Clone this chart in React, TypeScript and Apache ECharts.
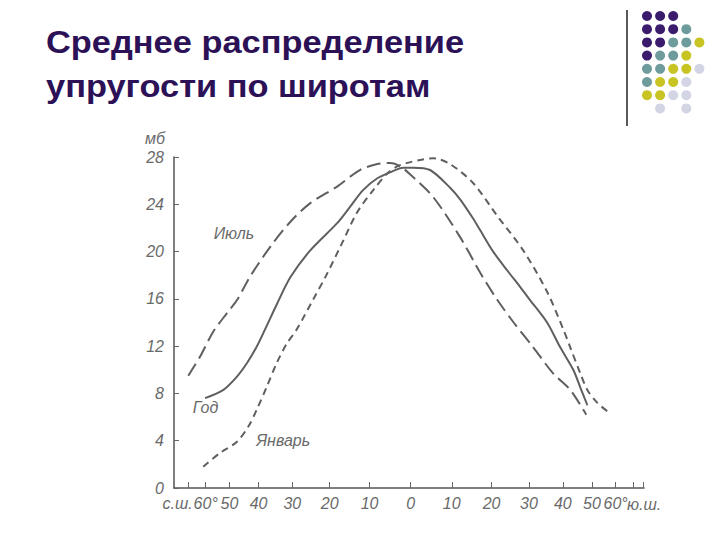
import React, { useEffect, useRef } from "react";
import * as echarts from "echarts";

// ---- data (latitude: north positive, south negative; values in mb) ----
const TITLE_LINES = ["Среднее распределение", "упругости по широтам"];
const Y_UNIT = "мб";
const X_END_NAME = "ю.ш.";
const Y_TICKS = [0, 4, 8, 12, 16, 20, 24, 28];
const X_TICK_LATS = [70, 60, 50, 40, 30, 20, 10, 0, -10, -20, -30, -40, -50, -60, -70, -80];
const X_LABEL_LATS = [80, 60, 50, 40, 30, 20, 10, 0, -10, -20, -30, -40, -50, -60];
const X_LABEL_TEXTS = ["с.ш.", "60°", "50", "40", "30", "20", "10", "0", "10", "20", "30", "40", "50", "60°"];

const SERIES_NAMES = ["Год", "Июль", "Январь"];

const YEAR_LAT = [60.3, 52.3, 47.3, 43.8, 40.6, 38.0, 34.5, 30.6, 25.1, 18.1, 14.8, 11.6, 8.1, 5.0, 1.8, -0.6, -4.7, -9.6, -12.1, -15.3, -17.1, -20.4, -24.1, -27.6, -30.3, -35.2, -39.2, -43.4, -45.8, -48.3];
const YEAR_VAL = [7.6, 8.3, 9.4, 10.55, 11.95, 13.4, 15.5, 17.8, 20.1, 22.4, 23.8, 25.2, 26.2, 26.7, 27.1, 27.1, 26.9, 25.4, 24.4, 22.8, 21.8, 20.0, 18.4, 17.0, 15.9, 14.0, 11.9, 10.0, 8.5, 7.0];

const JULY_LAT = [70.0, 62.9, 56.6, 50.9, 47.2, 42.7, 36.4, 30.6, 25.1, 18.1, 12.4, 8.1, 5.0, 2.5, -0.6, -5.5, -12.1, -17.1, -21.5, -25.8, -31.2, -37.0, -42.4, -47.9];
const JULY_VAL = [9.5, 11.1, 13.2, 14.8, 15.9, 17.9, 20.4, 22.5, 24.1, 25.5, 26.9, 27.4, 27.5, 27.2, 26.3, 24.6, 21.2, 18.2, 15.9, 14.0, 11.9, 9.7, 8.3, 6.2];

const JAN_LAT = [61.2, 53.7, 47.3, 43.3, 40.6, 37.4, 34.5, 31.6, 28.8, 24.4, 21.2, 17.3, 13.1, 9.1, 5.7, 3.3, 0.8, -2.3, -5.5, -9.6, -15.3, -21.5, -28.4, -35.2, -40.2, -42.4, -45.8, -48.3, -52.1, -57.5];
const JAN_VAL = [1.8, 2.96, 3.9, 5.2, 6.6, 8.6, 10.55, 12.2, 13.4, 15.9, 17.8, 20.4, 23.3, 25.2, 26.6, 27.2, 27.5, 27.75, 27.9, 27.4, 25.8, 23.0, 20.1, 16.6, 13.4, 11.9, 9.7, 8.3, 7.2, 6.3];

// where the curve names are written (lat, value)
const NAME_LAT = [60.1, 48.3, 32.6];
const NAME_VAL = [6.8, 21.5, 4.06];

// decorative dot grid (P purple, T teal, Y yellow, L lavender)
const DOT_ROWS = ["PPP", "PPPT", "PPTTY", "PTTY", "TTYYL", "TYYL", "YYLL", " L L"];
const DOT_COLORS: Record<string, string> = { P: "#3b1b6c", T: "#6e9c9d", Y: "#c8c423", L: "#d3d4e4" };

const toX = (lat: number) => -Math.sin((lat * Math.PI) / 180);
const fromX = (x: number) => Math.round((-Math.asin(Math.max(-1, Math.min(1, x))) * 180) / Math.PI);

const INK = "#5f5f5f";
const LABEL_FONT = {
  fontFamily: "Liberation Sans",
  fontStyle: "italic" as const,
  fontSize: 16,
  color: "#6a6a6a",
};

export default function App() {
  const ref = useRef<HTMLDivElement>(null);
  useEffect(() => {
    if (!ref.current) return;
    const chart = echarts.init(ref.current, undefined, { renderer: "svg" });

    const lats = [YEAR_LAT, JULY_LAT, JAN_LAT];
    const vals = [YEAR_VAL, JULY_VAL, JAN_VAL];
    const dashes: any[] = ["solid", [14, 6], [7, 5]];

    const series = SERIES_NAMES.map((name, i) => ({
      name,
      type: "line",
      data: lats[i].map((lat, j) => [toX(lat), vals[i][j]]),
      showSymbol: false,
      smooth: 0.3,
      lineStyle: { color: INK, width: 2, type: dashes[i] },
      markPoint: {
        symbol: "circle",
        symbolSize: 1,
        itemStyle: { color: "rgba(0,0,0,0)" },
        label: { show: true, position: "inside", formatter: name, ...LABEL_FONT },
        data: [{ coord: [toX(NAME_LAT[i]), NAME_VAL[i]] }],
      },
    }));

    const titleStyle = {
      fontFamily: "Liberation Sans",
      fontWeight: "bold",
      fontSize: 31,
      fill: "#2c1157",
      verticalAlign: "top",
    };
    const graphics: any[] = [
      {
        type: "line",
        shape: { x1: 627, y1: 10, x2: 627, y2: 126 },
        style: { stroke: "#222", lineWidth: 1.5 },
      },
      { type: "text", x: 46, y: 27, scaleX: 1.11, style: { text: TITLE_LINES[0], ...titleStyle } },
      { type: "text", x: 46, y: 71, scaleX: 1.11, style: { text: TITLE_LINES[1], ...titleStyle } },
    ];
    DOT_ROWS.forEach((row, r) => {
      row.split("").forEach((c, k) => {
        if (c === " ") return;
        graphics.push({
          type: "circle",
          shape: { cx: 647 + k * 13.1, cy: 16 + r * 13.2, r: 5 },
          style: { fill: DOT_COLORS[c] },
        });
      });
    });

    chart.setOption({
      animation: false,
      backgroundColor: "#ffffff",
      grid: { left: 174, right: 76, top: 157, bottom: 52, outerBoundsMode: "none" },
      xAxis: {
        type: "value",
        min: toX(90),
        max: toX(-80.4),
        name: X_END_NAME,
        nameLocation: "end",
        nameGap: 0,
        nameMoveOverlap: false,
        nameTextStyle: { ...LABEL_FONT, align: "center", verticalAlign: "top", padding: [8, 0, 0, 0] },
        splitLine: { show: false },
        axisLine: { onZero: false, lineStyle: { color: "#555", width: 1.5 } },
        axisTick: {
          customValues: X_TICK_LATS.map(toX),
          inside: true,
          length: 6,
          lineStyle: { color: "#666", width: 1 },
        },
        axisLabel: {
          customValues: X_LABEL_LATS.map(toX),
          showMinLabel: true,
          hideOverlap: false,
          margin: 7,
          formatter: (v: number) => {
            const i = X_LABEL_LATS.indexOf(fromX(v));
            return i >= 0 ? X_LABEL_TEXTS[i] : "";
          },
          ...LABEL_FONT,
        },
      },
      yAxis: {
        type: "value",
        min: 0,
        max: 28,
        interval: 4,
        name: Y_UNIT,
        nameLocation: "end",
        nameGap: 11,
        nameMoveOverlap: false,
        nameTextStyle: { ...LABEL_FONT, align: "right", padding: [0, 9, 0, 0] },
        splitLine: { show: false },
        axisLine: { show: true, onZero: false, lineStyle: { color: "#555", width: 1.5 } },
        axisTick: { show: true, inside: true, length: 5, lineStyle: { color: "#666" } },
        axisLabel: {
          margin: 10,
          formatter: (v: number) => (Y_TICKS.includes(v) ? String(v) : ""),
          ...LABEL_FONT,
        },
      },
      graphic: graphics,
      series,
    });
    return () => chart.dispose();
  }, []);
  return <div ref={ref} style={{ position: "fixed", left: 0, top: 0, width: 720, height: 540 }} />;
}
